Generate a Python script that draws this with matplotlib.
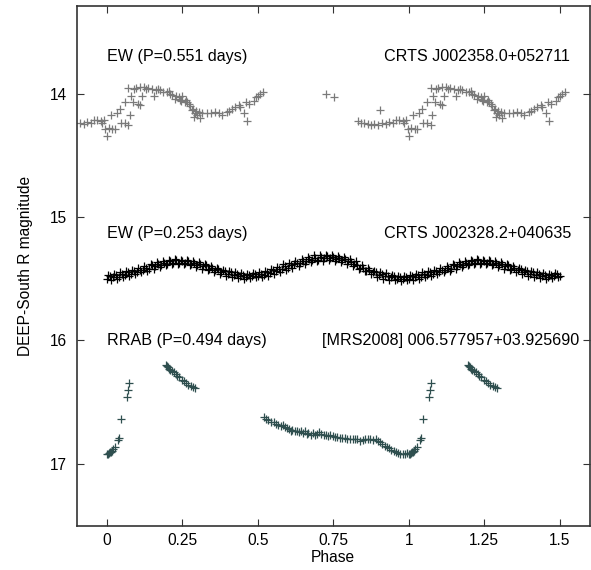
import matplotlib
matplotlib.use("Agg")
import matplotlib.pyplot as plt
import numpy as np

plt.rcParams['font.family'] = ['Liberation Sans', 'DejaVu Sans']

# ---------------- data (phase in [0,1), R magnitude) ----------------
ew1_phase = [0.001, 0.006, 0.015, 0.019, 0.028, 0.034, 0.045, 0.048, 0.059, 0.059,
             0.072, 0.072, 0.078, 0.081, 0.086, 0.089, 0.097, 0.105, 0.111, 0.111,
             0.116, 0.122, 0.130, 0.136, 0.150, 0.158, 0.163, 0.170, 0.177, 0.188,
             0.199, 0.205, 0.210, 0.216, 0.225, 0.229, 0.238, 0.242, 0.247, 0.249,
             0.258, 0.262, 0.266, 0.271, 0.277, 0.282, 0.286, 0.288, 0.291, 0.295,
             0.300, 0.304, 0.310, 0.315, 0.332, 0.346, 0.359, 0.373, 0.381, 0.398,
             0.406, 0.415, 0.426, 0.437, 0.442, 0.453, 0.461, 0.464, 0.470, 0.486,
             0.494, 0.501, 0.508, 0.516, 0.726, 0.752,
             0.831, 0.842, 0.853, 0.864, 0.875, 0.886, 0.897, 0.905, 0.913, 0.924,
             0.935, 0.947, 0.958, 0.969, 0.980, 0.985, 0.991, 0.996]
ew1_mag = [14.34, 14.28, 14.17, 14.29, 14.29, 14.16, 14.12, 14.24, 14.07, 14.24,
           14.25, 13.95, 14.17, 14.02, 14.07, 13.96, 13.95, 14.08, 14.09, 13.945,
           14.02, 13.945, 13.96, 13.95, 13.96, 14.02, 13.97, 13.96, 13.97, 13.985,
           13.99, 13.98, 14.00, 14.01, 14.04, 14.02, 14.03, 14.05, 14.06, 14.02,
           14.07, 14.05, 14.07, 14.08, 14.10, 14.13, 14.12, 14.19, 14.16, 14.14,
           14.17, 14.15, 14.20, 14.16, 14.155, 14.16, 14.15, 14.16, 14.17, 14.15,
           14.14, 14.12, 14.11, 14.09, 14.11, 14.16, 14.07, 14.22, 14.08, 14.06,
           14.03, 14.02, 14.005, 13.985, 14.00, 14.03,
           14.22, 14.234, 14.237, 14.242, 14.25, 14.247, 14.25, 14.13, 14.237, 14.242,
           14.231, 14.234, 14.215, 14.21, 14.22, 14.237, 14.215, 14.283]

ew2_phase = [0.00, 0.01, 0.02, 0.03, 0.04, 0.05, 0.06, 0.07, 0.08, 0.09,
             0.10, 0.11, 0.12, 0.13, 0.14, 0.15, 0.16, 0.17, 0.18, 0.19,
             0.20, 0.21, 0.22, 0.23, 0.24, 0.25, 0.26, 0.27, 0.28, 0.29,
             0.30, 0.31, 0.32, 0.33, 0.34, 0.35, 0.36, 0.37, 0.38, 0.39,
             0.40, 0.41, 0.42, 0.43, 0.44, 0.45, 0.46, 0.47, 0.48, 0.49,
             0.50, 0.51, 0.52, 0.53, 0.54, 0.55, 0.56, 0.57, 0.58, 0.59,
             0.60, 0.61, 0.62, 0.63, 0.64, 0.65, 0.66, 0.67, 0.68, 0.69,
             0.70, 0.71, 0.72, 0.73, 0.74, 0.75, 0.76, 0.77, 0.78, 0.79,
             0.80, 0.81, 0.82, 0.83, 0.84, 0.85, 0.86, 0.87, 0.88, 0.89,
             0.90, 0.91, 0.92, 0.93, 0.94, 0.95, 0.96, 0.97, 0.98, 0.99]
ew2_mag = [15.50, 15.48, 15.49, 15.47, 15.485, 15.46, 15.47, 15.45, 15.46, 15.44,
           15.45, 15.43, 15.43, 15.41, 15.42, 15.39, 15.40, 15.38, 15.39, 15.37,
           15.38, 15.36, 15.37, 15.35, 15.37, 15.36, 15.37, 15.36, 15.385, 15.37,
           15.39, 15.38, 15.40, 15.39, 15.42, 15.41, 15.43, 15.42, 15.45, 15.44,
           15.46, 15.45, 15.47, 15.46, 15.48, 15.47, 15.485, 15.47, 15.48, 15.465,
           15.475, 15.46, 15.47, 15.45, 15.455, 15.43, 15.44, 15.42, 15.425, 15.40,
           15.41, 15.39, 15.385, 15.37, 15.375, 15.355, 15.36, 15.34, 15.35, 15.33,
           15.345, 15.325, 15.335, 15.32, 15.335, 15.325, 15.34, 15.33, 15.35, 15.34,
           15.36, 15.365, 15.38, 15.39, 15.41, 15.415, 15.435, 15.43, 15.45, 15.45,
           15.47, 15.46, 15.48, 15.475, 15.49, 15.48, 15.50, 15.49, 15.505, 15.49]

# second batch of observations of the same EW star
ew2b_phase = [0.005, 0.015, 0.025, 0.035, 0.045, 0.055, 0.065, 0.075, 0.085, 0.095,
              0.105, 0.115, 0.125, 0.135, 0.145, 0.155, 0.165, 0.175, 0.185, 0.195,
              0.205, 0.215, 0.225, 0.235, 0.245, 0.255, 0.265, 0.275, 0.285, 0.295,
              0.305, 0.315, 0.325, 0.335, 0.345, 0.355, 0.365, 0.375, 0.385, 0.395,
              0.405, 0.415, 0.425, 0.435, 0.445, 0.455, 0.465, 0.475, 0.485, 0.495,
              0.505, 0.515, 0.525, 0.535, 0.545, 0.555, 0.565, 0.575, 0.585, 0.595,
              0.605, 0.615, 0.625, 0.635, 0.645, 0.655, 0.665, 0.675, 0.685, 0.695,
              0.705, 0.715, 0.725, 0.735, 0.745, 0.755, 0.765, 0.775, 0.785, 0.795,
              0.805, 0.815, 0.825, 0.835, 0.845, 0.855, 0.865, 0.875, 0.885, 0.895,
              0.905, 0.915, 0.925, 0.935, 0.945, 0.955, 0.965, 0.975, 0.985, 0.995]
ew2b_mag = [15.47, 15.51, 15.46, 15.50, 15.45, 15.49, 15.44, 15.475, 15.43, 15.46,
            15.415, 15.45, 15.40, 15.435, 15.38, 15.42, 15.365, 15.405, 15.355, 15.39,
            15.345, 15.385, 15.34, 15.38, 15.345, 15.385, 15.35, 15.39, 15.36, 15.405,
            15.365, 15.42, 15.38, 15.43, 15.395, 15.445, 15.41, 15.46, 15.43, 15.475,
            15.44, 15.49, 15.45, 15.495, 15.455, 15.50, 15.46, 15.495, 15.455, 15.49,
            15.45, 15.485, 15.44, 15.475, 15.42, 15.46, 15.405, 15.445, 15.385, 15.43,
            15.37, 15.41, 15.355, 15.395, 15.34, 15.38, 15.325, 15.365, 15.31, 15.36,
            15.31, 15.355, 15.305, 15.35, 15.31, 15.355, 15.315, 15.365, 15.325, 15.38,
            15.34, 15.395, 15.36, 15.42, 15.39, 15.44, 15.415, 15.46, 15.435, 15.485,
            15.445, 15.50, 15.455, 15.51, 15.47, 15.515, 15.475, 15.52, 15.475, 15.51]

rr_phase = [0.000, 0.004, 0.008, 0.011, 0.014, 0.018, 0.022, 0.027, 0.036, 0.040,
            0.047, 0.066, 0.070, 0.074,
            0.196, 0.199, 0.202, 0.206, 0.210, 0.216, 0.222, 0.229, 0.233, 0.240,
            0.249, 0.255, 0.262, 0.270, 0.278, 0.285, 0.292,
            0.521, 0.526, 0.535, 0.545, 0.553, 0.560, 0.568, 0.576, 0.582, 0.590,
            0.597, 0.603, 0.610, 0.615, 0.622, 0.630, 0.637, 0.643, 0.650, 0.656,
            0.662, 0.668, 0.675, 0.682, 0.690, 0.697, 0.704, 0.711, 0.718, 0.725,
            0.733, 0.740, 0.748, 0.756, 0.764, 0.772, 0.780, 0.788, 0.797, 0.805,
            0.814, 0.822, 0.830, 0.838, 0.847, 0.855, 0.864, 0.872, 0.880, 0.890,
            0.898, 0.905, 0.912, 0.920, 0.927, 0.935, 0.942, 0.950, 0.957, 0.965,
            0.972, 0.980, 0.987, 0.993]
rr_mag = [16.925, 16.92, 16.915, 16.91, 16.905, 16.90, 16.885, 16.865, 16.81, 16.79,
          16.64, 16.46, 16.40, 16.35,
          16.20, 16.21, 16.22, 16.23, 16.24, 16.25, 16.26, 16.27, 16.29, 16.30,
          16.32, 16.33, 16.35, 16.36, 16.37, 16.38, 16.39,
          16.625, 16.64, 16.645, 16.66, 16.665, 16.68, 16.685, 16.695, 16.69, 16.705,
          16.715, 16.72, 16.735, 16.725, 16.735, 16.735, 16.745, 16.735, 16.75, 16.74,
          16.76, 16.755, 16.765, 16.755, 16.765, 16.76, 16.745, 16.76, 16.765, 16.77,
          16.775, 16.77, 16.78, 16.785, 16.785, 16.79, 16.795, 16.795, 16.80, 16.805,
          16.80, 16.805, 16.805, 16.815, 16.81, 16.805, 16.805, 16.805, 16.81, 16.805,
          16.815, 16.825, 16.84, 16.855, 16.865, 16.875, 16.89, 16.895, 16.91, 16.915,
          16.92, 16.925, 16.92, 16.915]

labels_left = ["EW (P=0.551 days)", "EW (P=0.253 days)", "RRAB (P=0.494 days)"]
labels_right = ["CRTS J002358.0+052711", "CRTS J002328.2+040635",
                "[MRS2008] 006.577957+03.925690"]
xticks = [0, 0.25, 0.5, 0.75, 1, 1.25, 1.5]
xtick_labels = ["0", "0.25", "0.5", "0.75", "1", "1.25", "1.5"]
yticks = [14, 15, 16, 17]

# ---------------- figure ----------------
W, H = 591, 570
fig = plt.figure(figsize=(W / 100, H / 100), dpi=100)
ax = fig.add_axes([76.5 / W, 1 - 526.4 / H, (590 - 76.5) / W, (526.4 - 6.2) / H])

def folded(ph, mg, offsets, lo, hi):
    ph = np.asarray(ph, float)
    mg = np.asarray(mg, float)
    xs, ys = [], []
    for o in offsets:
        x = ph + o
        m = (x >= lo) & (x <= hi)
        xs.append(x[m])
        ys.append(mg[m])
    return np.concatenate(xs), np.concatenate(ys)

mk = dict(linestyle='none', marker='+', markersize=6.2, markeredgewidth=0.9)

x1, y1 = folded(ew1_phase, ew1_mag, [-1, 0, 1], -0.093, 1.53)
ax.plot(x1, y1, color='#7a7a7a', **mk)

x2, y2 = folded(ew2_phase, ew2_mag, [0, 1], 0.0, 1.5)
x2b, y2b = folded(ew2b_phase, ew2b_mag, [0, 1], 0.0, 1.5)
ax.plot(np.concatenate([x2, x2b]), np.concatenate([y2, y2b]), color='#000000', **mk)

x3, y3 = folded(rr_phase, rr_mag, [0, 1], 0.0, 1.5)
ax.plot(x3, y3, color='#2f4f4f', **mk)

fs = 11.6
ax.text(0.0, 13.70, labels_left[0], fontsize=fs, va='center', ha='left')
ax.text(1.532, 13.70, labels_right[0], fontsize=fs, va='center', ha='right')
ax.text(0.0, 15.13, labels_left[1], fontsize=fs, va='center', ha='left')
ax.text(1.537, 15.13, labels_right[1], fontsize=fs, va='center', ha='right')
ax.text(0.0, 16.0, labels_left[2], fontsize=fs, va='center', ha='left')
ax.text(1.563, 16.0, labels_right[2], fontsize=fs, va='center', ha='right')

ax.set_xlim(-0.1, 1.6)
ax.set_ylim(17.51, 13.29)
ax.set_xticks(xticks)
ax.set_xticklabels(xtick_labels)
ax.set_yticks(yticks)
ax.tick_params(direction='in', length=5, width=0.8, top=True, right=True,
               labelsize=11.2, color='#333333')
ax.tick_params(axis='y', pad=7)
ax.tick_params(axis='x', pad=5)
for s in ax.spines.values():
    s.set_linewidth(1.2)
    s.set_color('#333333')
ax.set_xlabel("Phase", fontsize=11.2, labelpad=1)
ax.set_ylabel("DEEP-South R magnitude", fontsize=11.2, labelpad=12)

fig.savefig("out.png", dpi=100)
